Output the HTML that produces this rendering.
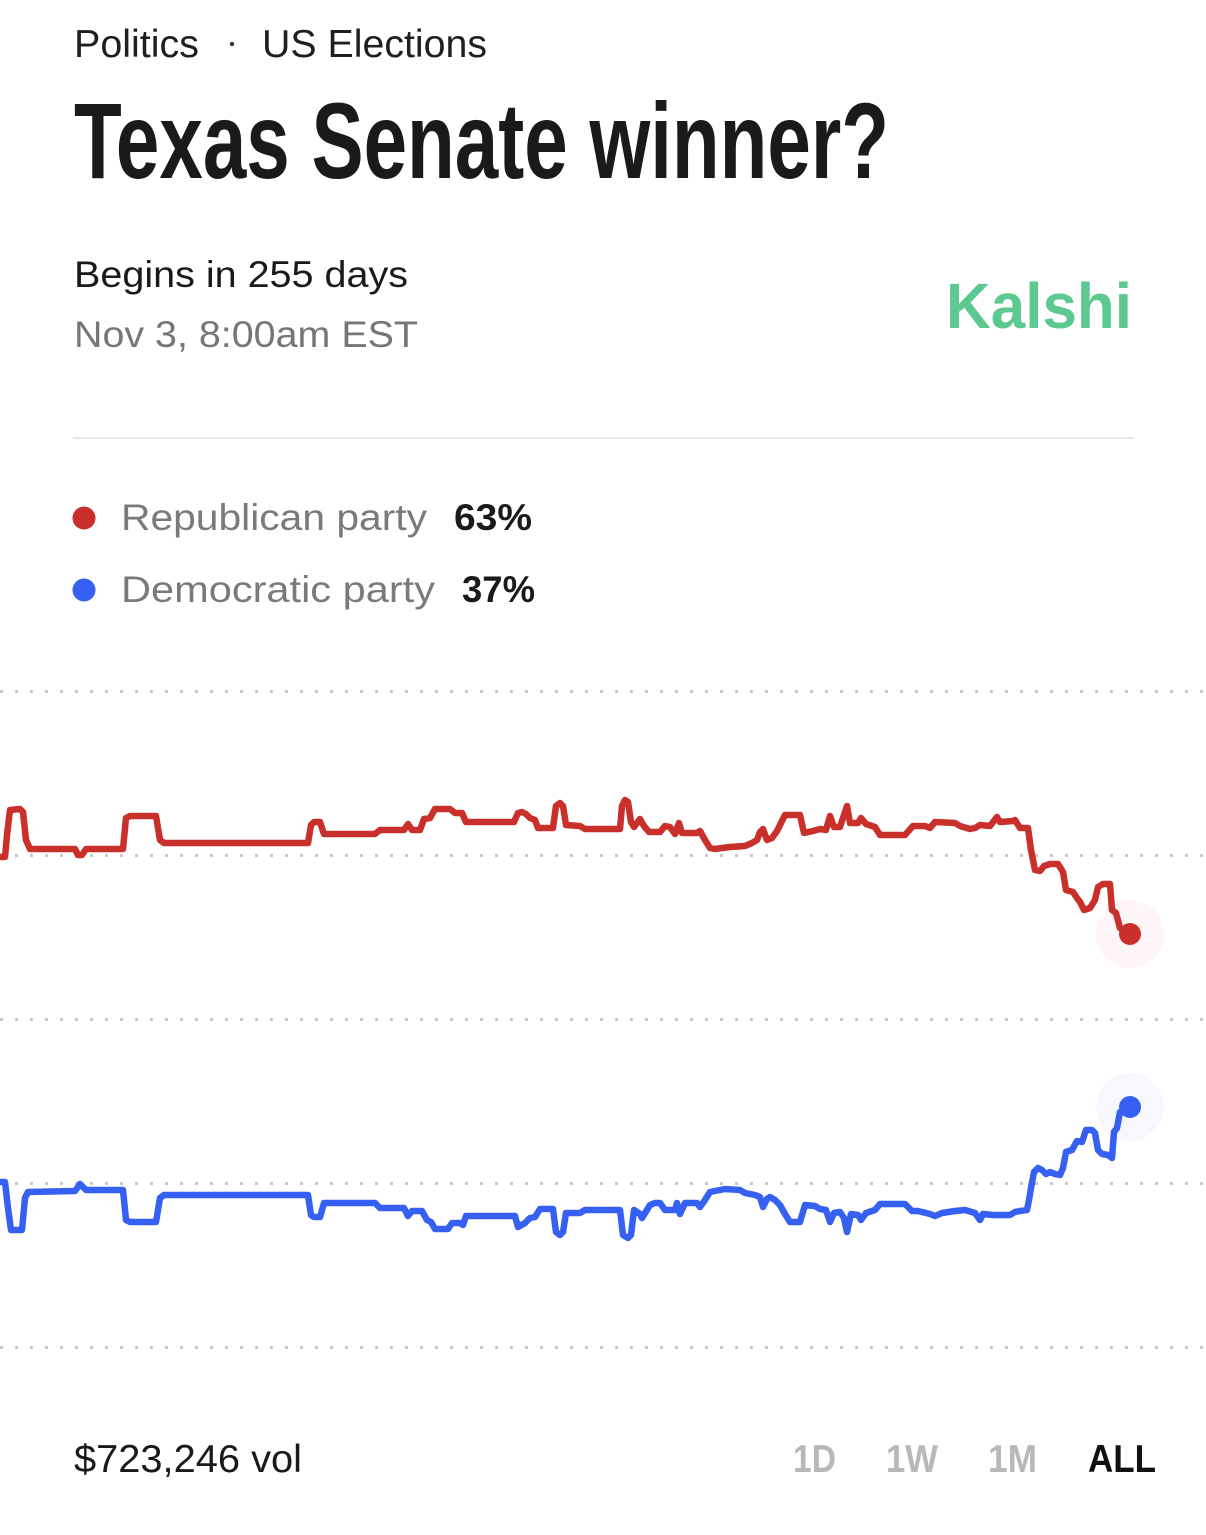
<!DOCTYPE html>
<html>
<head>
<meta charset="utf-8">
<style>
  html, body { margin: 0; padding: 0; background: #ffffff; }
  svg { display: block; }
  text { font-family: "Liberation Sans", "DejaVu Sans", sans-serif; }
</style>
</head>
<body>
<svg width="1206" height="1535" viewBox="0 0 1206 1535" xmlns="http://www.w3.org/2000/svg">
  <rect x="0" y="0" width="1206" height="1535" fill="#ffffff"/>

  <!-- Header breadcrumb -->
  <text x="74" y="57" font-size="39" fill="#1f1f1f" textLength="125" lengthAdjust="spacingAndGlyphs">Politics</text>
  <circle cx="232" cy="44" r="2.2" fill="#333"/>
  <text x="262" y="57" font-size="39" fill="#1f1f1f" textLength="225" lengthAdjust="spacingAndGlyphs">US Elections</text>

  <!-- Title -->
  <text x="74" y="178" font-size="108" font-weight="bold" fill="#1a1a1a" textLength="815" lengthAdjust="spacingAndGlyphs">Texas Senate winner?</text>

  <!-- Begins -->
  <text x="74" y="287" font-size="37" fill="#1a1a1a" textLength="334" lengthAdjust="spacingAndGlyphs">Begins in 255 days</text>
  <text x="74" y="347" font-size="37" fill="#767676" textLength="344" lengthAdjust="spacingAndGlyphs">Nov 3, 8:00am EST</text>

  <!-- Kalshi logo -->
  <text x="946" y="328" font-size="64" font-weight="bold" fill="#5DC990" textLength="186" lengthAdjust="spacingAndGlyphs">Kalshi</text>

  <!-- Divider -->
  <line x1="73" y1="438" x2="1134" y2="438" stroke="#e8e8e8" stroke-width="2"/>

  <!-- Legend -->
  <circle cx="84" cy="518" r="11.5" fill="#C9302C"/>
  <text x="121" y="530" font-size="37" fill="#7a7a7a" textLength="306" lengthAdjust="spacingAndGlyphs">Republican party</text>
  <text x="454" y="530" font-size="37" font-weight="bold" fill="#1a1a1a" textLength="78" lengthAdjust="spacingAndGlyphs">63%</text>

  <circle cx="84" cy="590" r="11.5" fill="#3560F2"/>
  <text x="121" y="602" font-size="37" fill="#7a7a7a" textLength="314" lengthAdjust="spacingAndGlyphs">Democratic party</text>
  <text x="462" y="602" font-size="37" font-weight="bold" fill="#1a1a1a" textLength="73" lengthAdjust="spacingAndGlyphs">37%</text>

  <!-- Grid lines (dotted) -->
  <g stroke="#c9c9c9" stroke-width="3" stroke-dasharray="3 12">
    <line x1="0" y1="691.5" x2="1206" y2="691.5"/>
    <line x1="0" y1="855.5" x2="1206" y2="855.5"/>
    <line x1="0" y1="1019.5" x2="1206" y2="1019.5"/>
    <line x1="0" y1="1183.5" x2="1206" y2="1183.5"/>
    <line x1="0" y1="1347.5" x2="1206" y2="1347.5"/>
  </g>

  <!-- Halos -->
  <circle cx="1130" cy="934" r="34" fill="#fef6f6"/>
  <circle cx="1130" cy="1107" r="34" fill="#f6f8fe"/>

  <!-- Red series -->
  <polyline fill="none" stroke="#C9302C" stroke-width="6.5" stroke-linejoin="round" stroke-linecap="round" points="
0,857 5,857 7,835 10,810 20,809 23,812 26,840 30,849 75,849 78,855 82,855 86,849 123,849 126,818 130,816 156,816 160,840 164,843
308,843 311,825 314,822 320,822 324,834 375,834 380,830 404,830 408,824 412,830 420,830 424,819 430,818 435,809 450,809 455,813 462,813 466,822
514,822 518,813 522,812 526,814 530,818 535,820 538,828 553,828 556,806 560,803 563,806 566,825 580,826 585,829 620,829 622,806 625,800 628,802 631,822 634,827
640,819 644,826 649,832 660,832 665,826 670,827 675,834 679,823 682,833 697,833 700,831 705,840 710,848 715,849 722,848 730,847 745,846 752,843 757,840 760,832 763,829 767,840 772,838 777,831 780,825 785,815 800,815
804,833 813,831 820,829 826,830 830,816 834,827 840,827 847,806 850,823 858,823 861,818 866,824 875,827 880,835 905,835 913,826 925,826 930,828 935,822 955,823 960,826 970,829 975,828 980,825 990,826 997,817 1000,822 1013,821 1015,820 1020,828 1028,828
1031,850 1035,870 1040,871 1044,866 1050,864 1058,864 1063,872 1066,890 1073,892 1077,898 1080,902 1084,910 1090,908 1095,900 1098,887 1103,884 1110,884 1112,910 1116,913 1120,928 1130,934"/>

  <!-- Blue series -->
  <polyline fill="none" stroke="#3560F2" stroke-width="6.5" stroke-linejoin="round" stroke-linecap="round" points="
0,1182 5,1182 8,1208 11,1230 22,1230 25,1198 28,1192 75,1191 80,1184 86,1190 123,1190 126,1220 130,1222 156,1222 160,1198 164,1195
308,1195 311,1215 314,1217 320,1217 324,1203 375,1203 380,1208 404,1208 408,1216 412,1211 422,1211 427,1220 431,1222 435,1229 448,1229 452,1223 460,1223 463,1225 466,1216
515,1216 518,1227 525,1223 530,1218 535,1217 540,1209 553,1209 556,1232 560,1235 563,1232 566,1213 580,1213 585,1210 620,1210 623,1235 628,1238 631,1235 634,1210
640,1214 642,1218 650,1205 655,1203 660,1203 665,1210 675,1210 677,1203 680,1214 685,1203 697,1203 700,1207 705,1200 710,1192 720,1190 725,1189 740,1190 745,1193 755,1195 760,1197 763,1207 767,1199 770,1197 775,1200 780,1205 785,1214 790,1222 800,1222
805,1205 815,1206 820,1209 826,1210 830,1222 834,1213 840,1212 844,1218 847,1232 851,1214 858,1215 861,1220 866,1213 875,1210 880,1204 905,1204 912,1211 918,1211 930,1214 935,1216 942,1213 955,1211 965,1210 975,1213 980,1220 983,1214 993,1215 1010,1215 1015,1212 1020,1211 1027,1210
1029,1200 1031,1188 1034,1172 1038,1168 1042,1170 1046,1174 1050,1172 1055,1174 1060,1175 1063,1168 1066,1152 1072,1150 1077,1141 1082,1142 1086,1130 1092,1130 1095,1133 1098,1150 1102,1154 1108,1155 1112,1158 1114,1132 1117,1128 1120,1112 1130,1107"/>

  <!-- End dots -->
  <circle cx="1130" cy="934" r="11" fill="#C9302C"/>
  <circle cx="1130" cy="1107" r="11" fill="#3560F2"/>

  <!-- Footer -->
  <text x="74" y="1472" font-size="39" fill="#1a1a1a" textLength="228" lengthAdjust="spacingAndGlyphs">$723,246 vol</text>
  <text x="793" y="1472" font-size="39" font-weight="bold" fill="#b8b8b8" textLength="43" lengthAdjust="spacingAndGlyphs">1D</text>
  <text x="886" y="1472" font-size="39" font-weight="bold" fill="#b8b8b8" textLength="52" lengthAdjust="spacingAndGlyphs">1W</text>
  <text x="988" y="1472" font-size="39" font-weight="bold" fill="#b8b8b8" textLength="49" lengthAdjust="spacingAndGlyphs">1M</text>
  <text x="1088" y="1472" font-size="39" font-weight="bold" fill="#111111" textLength="68" lengthAdjust="spacingAndGlyphs">ALL</text>
</svg>
</body>
</html>
